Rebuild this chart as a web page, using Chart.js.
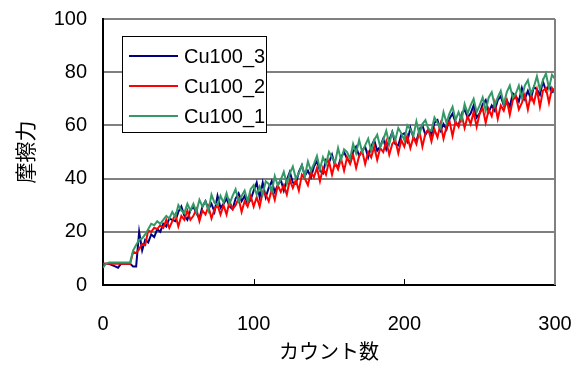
<!DOCTYPE html>
<html>
<head>
<meta charset="utf-8">
<script src="https://cdn.jsdelivr.net/npm/chart.js@4"></script>
<style>
  html, body { margin: 0; padding: 0; background: #fff; }
  #wrap { width: 583px; height: 365px; }
</style>
</head>
<body>
<div id="wrap"><canvas id="chart" width="583" height="365"></canvas></div>
<script>
// counts sampled every 2 steps, 0..300
const counts = Array.from({ length: 151 }, (_, i) => i * 2);

const seriesNames = ['Cu100_3', 'Cu100_2', 'Cu100_1'];
const seriesColors = ['#000080', '#FF0000', '#339966'];

const cu100_3 = [
  8, 8, 8, 7.5, 7, 6.5, 8, 8, 8, 8,
  7, 7, 20, 13, 17, 16, 19, 18, 21, 20,
  23, 22, 25, 24.5, 24, 27.5, 29.5, 26, 24.5, 28,
  29.5, 27, 25, 29.5, 31.5, 28.5, 30.5, 27.5, 33.5, 29,
  30.5, 32.5, 29.5, 28.5, 32.5, 34.5, 31.5, 33.5, 30.5, 32,
  35.5, 38.5, 33, 38.5, 33, 36.5, 39, 35, 37.5, 39.5,
  35.5, 39.5, 42.5, 38.5, 38, 42.5, 45, 41, 43, 40.5,
  44.5, 46.5, 43, 42, 47, 46, 49, 45, 44.5, 48,
  50, 47.5, 46, 50, 52, 48.5, 50.5, 52, 48, 52,
  54.5, 50.5, 52, 55, 51, 54.5, 57.5, 53, 52.5, 56.5,
  57, 54, 59, 55.5, 54, 58, 60, 56.5, 58.5, 56.5,
  61, 62, 58, 60.5, 58.5, 62.5, 64.5, 61, 60, 64,
  66, 63, 64.5, 67.5, 63, 64.5, 68, 69.5, 65, 67.5,
  65.5, 69.5, 71, 67.5, 69.5, 67, 72, 71, 69, 74,
  70, 73, 70, 74.5, 73.5, 71.5, 76.5, 73, 75, 72.5,
  74
];

const cu100_2 = [
  8, 8, 8, 8, 8, 8, 8, 8, 8, 8,
  12.5, 12, 13.5, 15.5, 15, 20.5, 20, 21.5, 21, 22.5,
  21.5, 24.5, 21.5, 24, 26.5, 22, 26, 24.5, 28, 24.5,
  26, 28.5, 24, 28, 26.5, 29.5, 25, 28.5, 30, 26.5,
  30, 26.5, 31.5, 28.5, 30, 32.5, 27.5, 31.5, 29.5, 33.5,
  29.5, 33, 29.5, 35, 34, 31.5, 36, 32, 37.5, 35,
  37.5, 34, 39.5, 36.5, 39.5, 35.5, 41.5, 40, 37.5, 42.5,
  40.5, 44, 39, 44, 41.5, 46.5, 41.5, 46, 43.5, 47.5,
  43, 48, 45.5, 49, 44, 48.5, 50.5, 45.5, 50, 48,
  52, 47, 51.5, 50, 54, 49, 53, 54.5, 49.5, 54.5,
  52, 56, 51.5, 55.5, 53, 58, 52, 57, 58.5, 54,
  58.5, 55.5, 60.5, 55, 59.5, 61.5, 56, 61.5, 59.5, 64,
  59, 63.5, 60.5, 65, 59.5, 64.5, 66.5, 61, 66, 63.5,
  68.5, 62.5, 67.5, 65.5, 69.5, 64, 69.5, 71, 66, 68.5,
  71.5, 66, 71.5, 68.5, 73.5, 67, 73, 74, 68.5, 74,
  72
];

const cu100_1 = [
  6.5, 8, 8.5, 8.5, 8.5, 8.5, 8.5, 8.5, 8.5, 8.5,
  13, 15, 17, 17.5, 19, 21, 23, 22.5, 24, 23,
  24.5, 26, 25, 27.5, 25.5, 30, 28, 27, 30.5, 28,
  30.5, 27.5, 32, 29.5, 31.5, 28, 34, 31, 30, 33.5,
  31, 34.5, 30.5, 33.5, 36, 31.5, 33.5, 35.5, 31.5, 36,
  37.5, 34, 37, 34, 39, 38, 35, 41, 37.5, 39.5,
  42.5, 38, 42, 44.5, 40, 42, 45, 41, 46.5, 43,
  45.5, 48.5, 43.5, 48, 45.5, 50, 48, 46, 51.5, 47,
  51, 50, 47.5, 53, 49.5, 54.5, 50, 52.5, 55, 50.5,
  54.5, 56.5, 52, 54.5, 58, 53, 57.5, 54.5, 59, 57,
  54.5, 60, 58.5, 56, 61.5, 56.5, 60.5, 62, 58.5, 58,
  63, 61, 59, 65, 61, 64.5, 67, 62, 65, 62,
  68, 64.5, 67.5, 70, 65, 67.5, 70.5, 65.5, 70.5, 72.5,
  67.5, 70.5, 73, 68, 72.5, 75, 70.5, 72, 75, 70.5,
  75, 77, 72, 74.5, 78.5, 73.5, 77, 79.5, 74, 79,
  77.5
];

const xTicks = [0, 100, 200, 300];
const yTicks = [0, 20, 40, 60, 80, 100];

const FONT = "'Liberation Sans', Arial, 'Noto Sans CJK JP', sans-serif";
const allSeries = [cu100_3, cu100_2, cu100_1];

function toPoints(values) {
  return values.map((v, i) => ({ x: counts[i], y: v }));
}

// Excel-style frame: gray right border, small inner ticks on x axis, boxed legend
const framePlugin = {
  id: 'frame',
  afterDraw(chart) {
    const ctx = chart.ctx;
    const a = chart.chartArea;
    const xs = chart.scales.x;
    ctx.save();
    ctx.strokeStyle = '#808080';
    ctx.lineWidth = 2;
    ctx.beginPath();
    ctx.moveTo(a.right, a.top);
    ctx.lineTo(a.right, a.bottom);
    ctx.stroke();

    ctx.strokeStyle = '#000';
    ctx.lineWidth = 1;
    xTicks.slice(1, -1).forEach(t => {
      const px = Math.round(xs.getPixelForValue(t)) + 0.5;
      ctx.beginPath();
      ctx.moveTo(px, a.bottom);
      ctx.lineTo(px, a.bottom - 6);
      ctx.stroke();
    });

    // legend box
    const bx = 122, by = 36, bw = 144, bh = 96;
    ctx.fillStyle = '#fff';
    ctx.fillRect(bx, by, bw, bh);
    ctx.strokeStyle = '#000';
    ctx.lineWidth = 1;
    ctx.strokeRect(bx + 0.5, by + 0.5, bw, bh);
    ctx.font = '20px ' + FONT;
    ctx.textBaseline = 'middle';
    ctx.textAlign = 'left';
    chart.data.datasets.forEach((ds, i) => {
      const y = by + 20 + i * 30;
      ctx.strokeStyle = ds.borderColor;
      ctx.lineWidth = 2;
      ctx.beginPath();
      ctx.moveTo(129, y);
      ctx.lineTo(178, y);
      ctx.stroke();
      ctx.fillStyle = '#000';
      ctx.fillText(ds.label, 184, y + 1);
    });
    ctx.restore();
  }
};

new Chart(document.getElementById('chart'), {
  type: 'line',
  data: {
    datasets: seriesNames.map((name, i) => ({
      label: name,
      data: toPoints(allSeries[i]),
      borderColor: seriesColors[i],
      backgroundColor: seriesColors[i],
      borderWidth: 2,
      pointRadius: 0,
      tension: 0,
      fill: false,
      order: 3 - i
    }))
  },
  options: {
    responsive: false,
    animation: false,
    layout: { padding: { left: 0, right: 28, top: 19, bottom: 0 } },
    plugins: {
      legend: { display: false },
      tooltip: { enabled: false }
    },
    scales: {
      x: {
        type: 'linear',
        min: 0,
        max: 300,
        afterBuildTicks: s => { s.ticks = xTicks.map(v => ({ value: v })); },
        afterFit: s => {
          s.height = 80;
          s.paddingLeft = 0;
          s.paddingRight = 0;
        },
        grid: { display: true, drawOnChartArea: false, drawTicks: false },
        border: { display: true, color: '#000', width: 2 },
        ticks: {
          color: '#000',
          font: { family: FONT, size: 20 },
          padding: 27,
          maxRotation: 0
        },
        title: {
          display: true,
          text: 'カウント数',
          color: '#000',
          font: { family: FONT, size: 20 },
          padding: { top: 0, bottom: 0 }
        }
      },
      y: {
        min: 0,
        max: 100,
        afterBuildTicks: s => { s.ticks = yTicks.map(v => ({ value: v })); },
        afterFit: s => {
          s.width = 103;
          s.paddingTop = 0;
          s.paddingBottom = 0;
        },
        grid: { color: '#808080', lineWidth: 2, drawTicks: false },
        border: { display: true, color: '#000', width: 2 },
        ticks: {
          color: '#000',
          font: { family: FONT, size: 20 },
          padding: 16
        },
        title: {
          display: true,
          text: '摩擦力',
          color: '#000',
          font: { family: FONT, size: 21 },
          padding: { top: 15, bottom: 0 }
        }
      }
    }
  },
  plugins: [framePlugin]
});
</script>
</body>
</html>
